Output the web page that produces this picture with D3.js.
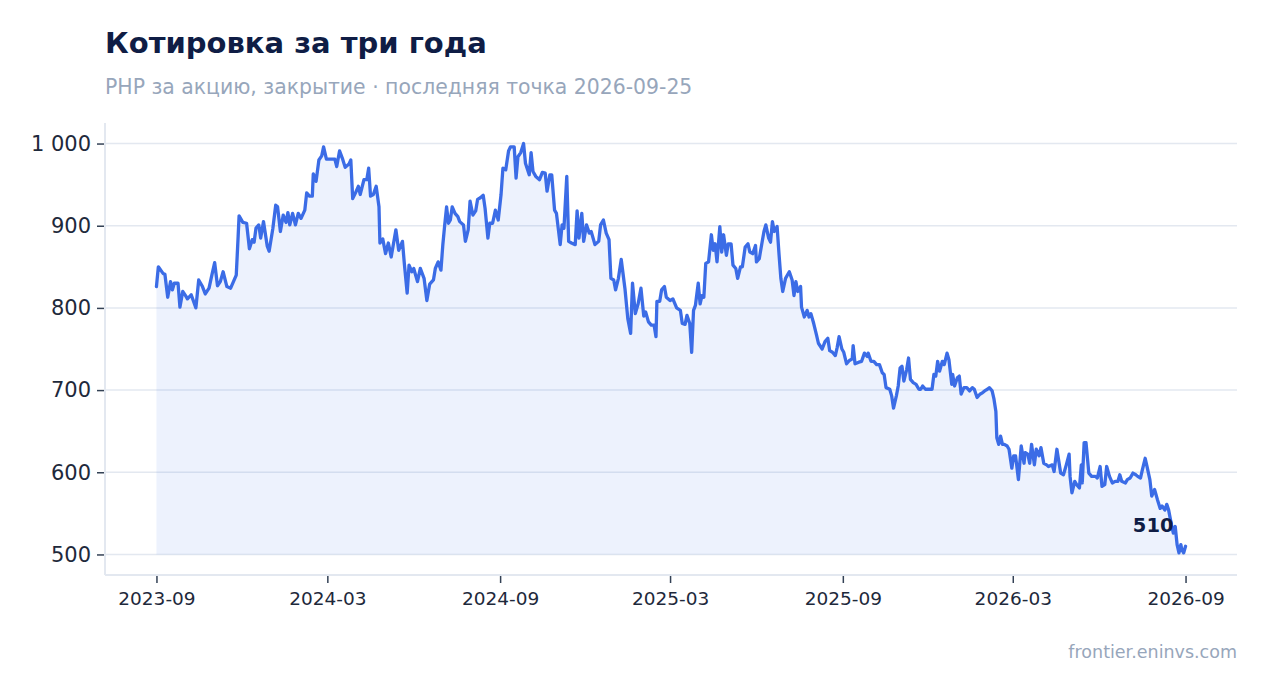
<!DOCTYPE html>
<html>
<head>
<meta charset="utf-8">
<script src="https://cdn.jsdelivr.net/npm/d3@7"></script>
<style>
    body { margin: 0; background: #ffffff; }
    svg { display: block; font-family: "DejaVu Sans", "Noto Sans", sans-serif; }
</style>
</head>
<body>
<svg id="chart"></svg>
<script>
// Texts
const chartTitle = "Котировка за три года";
const chartSubtitle = "PHP за акцию, закрытие · последняя точка 2026-09-25";
const sourceNote = "frontier.eninvs.com";

// Closing prices: days counted from the first close
const firstDate = "2023-09-25";
const dayOffsets = [
    0, 2, 7, 9, 12, 15, 17, 19, 23, 25, 28, 31, 33, 37, 42, 45, 49, 52, 56, 59,
    62, 65, 68, 71, 75, 79, 82, 85, 87, 88, 92, 96, 99, 102, 104, 106, 109, 111, 114, 118,
    120, 124, 127, 129, 132, 135, 138, 140, 142, 145, 148, 151, 154, 158, 160, 163, 166, 167, 170, 173,
    176, 178, 181, 184, 190, 192, 195, 198, 201, 205, 207, 209, 212, 215, 217, 221, 224, 226, 228, 231,
    234, 237, 238, 241, 244, 247, 250, 255, 258, 262, 264, 267,
    269, 272, 274, 278, 281, 285, 288, 291, 295, 297, 300, 303, 305, 307, 309, 311, 313, 315, 318, 321,
    323, 327, 329, 332, 334, 337, 340, 342, 345, 348, 350, 353, 355, 358, 361, 364, 367, 369, 372, 375,
    377, 381, 383, 385, 388, 391, 393, 397, 399, 401, 404, 408, 411, 414, 416, 419, 421, 424, 426, 430,
    432, 434, 437, 439, 442, 446, 448, 450, 453, 455, 458, 461, 463, 467, 471, 473, 476, 479, 482, 484,
    487, 489, 492, 495, 499, 502, 505, 507, 510, 513, 516, 519, 521, 524, 527, 530, 532, 533, 536, 538,
    541,
    543, 547, 550, 554, 558, 560, 563, 565, 568, 570, 572, 574, 577, 579, 581, 583, 585, 588, 591, 593,
    595, 597, 600, 602, 604, 607, 609, 612, 614, 617, 619, 622, 624, 627, 630, 632, 635, 638, 639, 642,
    645, 647, 649, 652, 654, 656, 658, 661, 663, 665, 667, 670, 672, 674, 677, 679, 681, 683, 686, 687,
    690, 693, 695, 697, 700, 703, 705, 709, 712, 715, 717, 720, 723, 725, 727, 730, 732, 735, 738, 741,
    742, 744, 748,
    751, 754, 757, 758, 761, 764, 767, 770, 773, 775, 777, 781, 783, 785, 788, 790, 792, 794, 796, 799,
    801, 803, 806, 809, 812, 814, 816, 819, 822, 826, 828, 830, 832, 834, 837, 839, 842, 844, 847, 848,
    850, 853, 855, 857, 860, 863, 866, 869, 871, 874, 877, 880, 882, 885, 887, 890, 892, 894, 895, 897,
    899, 901, 903, 906, 908, 911, 913, 915, 918, 921, 924, 925, 928, 930, 932, 935, 937, 940, 942, 945,
    948, 950,
    954, 956, 959, 963, 966, 969, 972, 973, 975, 978, 980, 983, 985, 986, 988, 990, 993, 996, 1000, 1002,
    1005, 1007, 1010, 1012, 1015, 1018, 1021, 1024, 1026, 1028, 1032, 1034, 1037, 1040, 1043, 1045, 1048, 1050, 1053, 1055,
    1058, 1060, 1063, 1066, 1069, 1071, 1074, 1076, 1078, 1081, 1083, 1085, 1087, 1089, 1091, 1092, 1094, 1096
];
const closes = [
    826, 850, 842, 841, 813, 832, 822, 830, 830, 801, 820, 815, 811, 816, 800, 834, 826, 817, 824, 840,
    855, 827, 832, 844, 826, 824, 832, 840, 887, 912, 904, 903, 872, 883, 880, 897, 901, 885, 905, 875,
    869, 897, 925, 923, 893, 913, 904, 916, 901, 915, 901, 915, 909, 919, 940, 936, 936, 963, 954, 980,
    985, 996, 981, 981, 981, 972, 991, 982, 971, 975, 980, 933, 940, 948, 938, 956, 956, 970, 936, 938,
    948, 923, 879, 884, 866, 879, 862, 895, 870, 881, 854, 818,
    852, 844, 848, 832, 848, 836, 809, 829, 834, 848, 856, 846, 877, 901, 923, 903, 907, 923, 915, 911,
    905, 901, 881, 895, 930, 913, 918, 932, 934, 937, 921, 885, 903, 903, 919, 907, 938, 970, 968, 991,
    996, 996, 958, 984, 989, 1000, 976, 962, 989, 966, 960, 956, 965, 964, 942, 962, 962, 919, 915, 877,
    901, 897, 960, 881, 879, 877, 918, 885, 915, 881, 901, 891, 893, 877, 881, 901, 907, 891, 883, 836,
    834, 822, 836, 859, 823, 787, 769, 830, 793, 805, 824, 790, 795, 783, 779, 779, 765, 808, 808, 822,
    826,
    813, 809, 811, 800, 797, 781, 780, 791, 781, 746, 797, 803, 830, 805, 815, 813, 854, 856, 889, 870,
    878, 856, 899, 868, 889, 864, 878, 878, 852, 848, 836, 850, 850, 874, 878, 868, 866, 876, 856, 860,
    880, 893, 901, 885, 880, 905, 893, 899, 866, 836, 820, 836, 840, 844, 834, 815, 832, 820, 826, 801,
    789, 797, 789, 793, 781, 767, 757, 750, 759, 763, 748, 746, 742, 752, 765, 750, 746, 732, 736, 738,
    754, 732, 734,
    735, 745, 741, 745, 735, 735, 731, 731, 721, 719, 703, 701, 693, 678, 693, 705, 727, 729, 711, 725,
    739, 713, 709, 707, 701, 701, 705, 701, 701, 701, 719, 717, 735, 723, 735, 731, 745, 737, 707, 719,
    705, 715, 717, 695, 703, 703, 699, 703, 701, 691, 695, 697, 699, 701, 703, 699, 689, 674, 642, 634,
    644, 634, 634, 632, 628, 605, 620, 620, 591, 632, 611, 624, 622, 611, 634, 609, 628, 620, 630, 611,
    609, 607,
    609, 601, 628, 599, 597, 609, 622, 595, 575, 589, 585, 581, 609, 587, 636, 636, 599, 595, 595, 593,
    607, 583, 585, 607, 595, 587, 589, 589, 597, 589, 587, 591, 593, 599, 597, 595, 593, 603, 617, 607,
    591, 571, 579, 567, 556, 559, 554, 561, 554, 536, 526, 534, 512, 502, 512, 506, 502, 510
];

// Axis ticks
const yTicks = [500, 600, 700, 800, 900, 1000];
const xTickDates = ["2023-09-25", "2024-03-25", "2024-09-25", "2025-03-25", "2025-09-25", "2026-03-25", "2026-09-25"];

const width = 1267;
const height = 693;
const margin = { top: 123, right: 30, bottom: 118, left: 105 };
const cfg = {
    titleColor: "#0f1d45",
    mutedColor: "#97a6bb",
    textColor: "#1e293b",
    gridColor: "#e3e8f0",
    lineColor: "#3b6ce6",
    areaColor: "#3b6ce6",
    areaOpacity: 0.09,
    lineWidth: 3.3,
};

const parseDate = d3.utcParse("%Y-%m-%d");
const start = parseDate(firstDate);
const data = dayOffsets.map((d, i) => ({ date: d3.utcDay.offset(start, d), value: closes[i] }));

const ruFormat = d3.formatLocale({ decimal: ",", thousands: "\u00a0", grouping: [3], currency: ["", ""] }).format(",d");

// Scales (5% padding each side)
const [x0, x1] = d3.extent(data, d => d.date);
const xPad = (x1 - x0) * 0.05;
const xScale = d3.scaleUtc()
    .domain([new Date(+x0 - xPad), new Date(+x1 + xPad)])
    .range([margin.left, width - margin.right]);
const yScale = d3.scaleLinear()
    .domain([475, 1025])
    .range([height - margin.bottom, margin.top]);

const svg = d3.select("#chart")
    .attr("width", width)
    .attr("height", height)
    .attr("viewBox", [0, 0, width, height]);

svg.append("text")
    .attr("x", margin.left).attr("y", 53)
    .attr("fill", cfg.titleColor)
    .attr("font-size", 29).attr("font-weight", "bold")
    .text(chartTitle);

svg.append("text")
    .attr("x", margin.left).attr("y", 94)
    .attr("fill", cfg.mutedColor)
    .attr("font-size", 20.4)
    .text(chartSubtitle);

// gridlines
svg.append("g")
    .selectAll("line")
    .data(yTicks)
    .join("line")
        .attr("x1", margin.left).attr("x2", width - margin.right)
        .attr("y1", d => yScale(d)).attr("y2", d => yScale(d))
        .attr("stroke", cfg.gridColor).attr("stroke-width", 1.5);

// frame lines (left / bottom)
svg.append("line")
    .attr("x1", margin.left).attr("x2", margin.left)
    .attr("y1", margin.top).attr("y2", height - margin.bottom)
    .attr("stroke", cfg.gridColor).attr("stroke-width", 2);
svg.append("line")
    .attr("x1", margin.left).attr("x2", width - margin.right)
    .attr("y1", height - margin.bottom).attr("y2", height - margin.bottom)
    .attr("stroke", cfg.gridColor).attr("stroke-width", 2);

// axes
const yAxis = d3.axisLeft(yScale)
    .tickValues(yTicks)
    .tickFormat(ruFormat)
    .tickSize(7)
    .tickPadding(6);
svg.append("g")
    .attr("transform", `translate(${margin.left - 1},0)`)
    .call(yAxis)
    .call(g => g.select(".domain").remove())
    .call(g => g.selectAll(".tick line").attr("stroke", "#334155").attr("stroke-width", 1.5))
    .call(g => g.selectAll("text")
        .attr("fill", cfg.textColor)
        .attr("font-size", 21)
        .attr("font-family", "DejaVu Sans, sans-serif"));

const xAxis = d3.axisBottom(xScale)
    .tickValues(xTickDates.map(parseDate))
    .tickFormat(d3.utcFormat("%Y-%m"))
    .tickSize(7)
    .tickPadding(9);
svg.append("g")
    .attr("transform", `translate(0,${height - margin.bottom + 1})`)
    .call(xAxis)
    .call(g => g.select(".domain").remove())
    .call(g => g.selectAll(".tick line").attr("stroke", "#334155").attr("stroke-width", 1.5))
    .call(g => g.selectAll("text")
        .attr("fill", cfg.textColor)
        .attr("font-size", 18.5)
        .attr("font-family", "DejaVu Sans, sans-serif"));

// area + line
const area = d3.area()
    .x(d => xScale(d.date))
    .y0(yScale(500))
    .y1(d => yScale(d.value));
svg.append("path")
    .datum(data)
    .attr("fill", cfg.areaColor)
    .attr("fill-opacity", cfg.areaOpacity)
    .attr("d", area);

const line = d3.line()
    .x(d => xScale(d.date))
    .y(d => yScale(d.value));
svg.append("path")
    .datum(data)
    .attr("fill", "none")
    .attr("stroke", cfg.lineColor)
    .attr("stroke-width", cfg.lineWidth)
    .attr("stroke-linejoin", "round")
    .attr("stroke-linecap", "round")
    .attr("d", line);

// last value label
const last = data[data.length - 1];
svg.append("text")
    .attr("x", xScale(last.date) - 12)
    .attr("y", yScale(last.value) - 14)
    .attr("text-anchor", "end")
    .attr("fill", cfg.titleColor)
    .attr("font-size", 19.5).attr("font-weight", "bold")
    .text(ruFormat(last.value));

svg.append("text")
    .attr("x", width - margin.right).attr("y", 658)
    .attr("text-anchor", "end")
    .attr("fill", cfg.mutedColor)
    .attr("font-size", 17.5)
    .text(sourceNote);
</script>
</body>
</html>
